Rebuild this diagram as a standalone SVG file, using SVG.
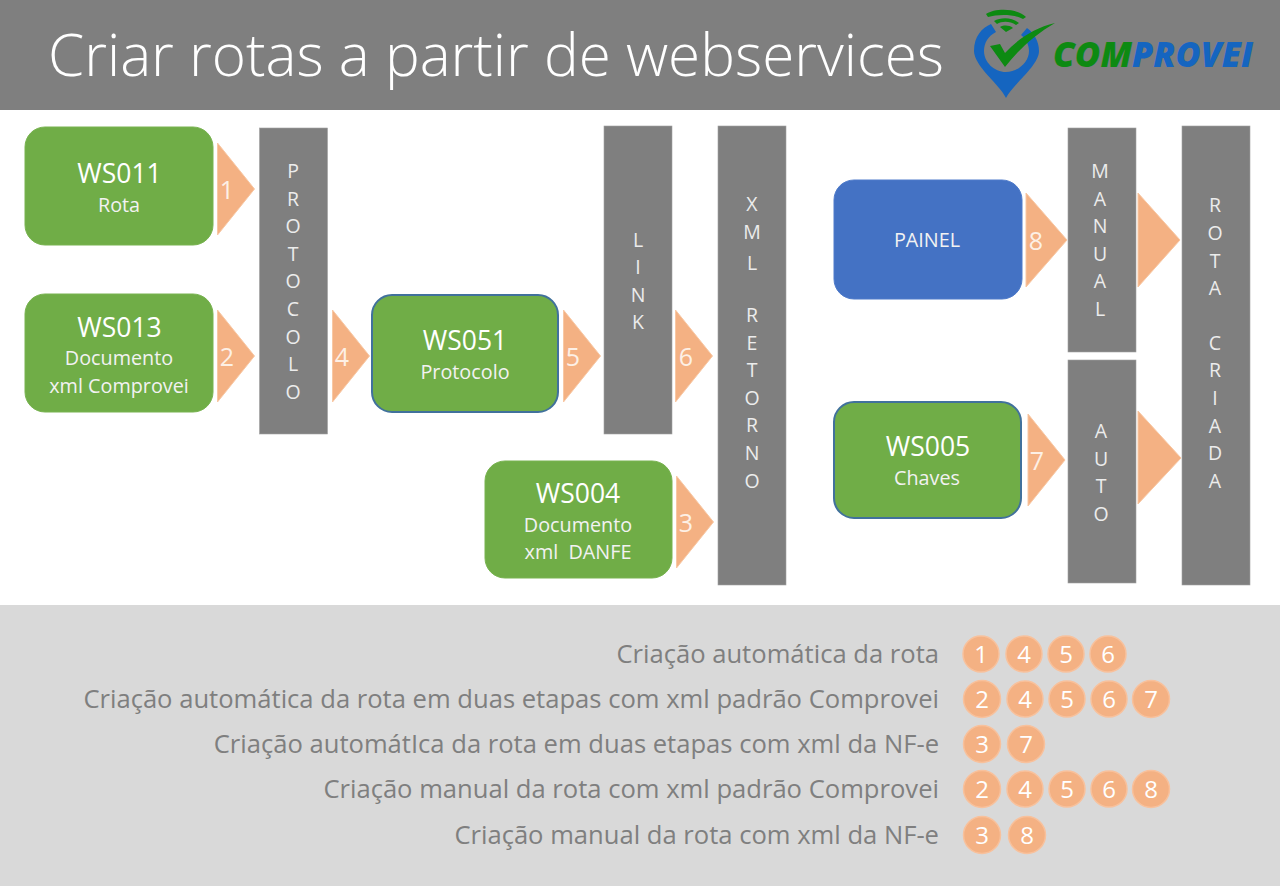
<svg xmlns="http://www.w3.org/2000/svg" width="1280" height="886" viewBox="0 0 1280 886">
<style>
text{font-family:"Open Sans","Liberation Sans",sans-serif}
.c{text-anchor:middle}
.g{fill:#70ad47;stroke:#78b350;stroke-width:1}
.gb{fill:#70ad47;stroke:#41719c;stroke-width:2}
.bar{fill:#7f7f7f;stroke:#a0a0a0;stroke-width:.6}
.t{fill:#f4b183;stroke:#f8c8a4;stroke-width:1}
.h{fill:#fff;font-size:26.500px;text-anchor:middle}
.s{fill:#f2f2f2;font-size:19.800px;text-anchor:middle}
.v{fill:#ececec;font-size:19.500px;text-anchor:middle}
.n{fill:#fdf0e6;font-size:25px;text-anchor:middle}
.r{fill:#7f7f7f;font-size:25.600px;text-anchor:end}
.d{fill:#f4b183;stroke:#f8c19c;stroke-width:1.5}
.dn{fill:#fff;font-size:24px;text-anchor:middle}
</style>
<rect width="1280" height="886" fill="#fff"/>
<g id="header">
<rect width="1280" height="110" fill="#7f7f7f"/>
<text x="48" y="76" font-size="58.400" font-weight="300" fill="#fff">Criar rotas a partir de webservices</text>
</g>
<g id="logo">
<path d="M1006 98C1000 85 974 66 974 51C974 36 982 28 991 24L996 32C988 36 984 43 984 51C984 62 994 72 1006 72C1018 72 1029 62 1029 51C1029 45 1026 39 1021 35L1027 28C1034 33 1039 41 1039 51C1039 66 1012 85 1006 98Z" fill="#1565c0"/>
<path d="M986 14C995 8 1017 8 1026 17L1023 19C1014 14 998 14 988 17Z" fill="#0d8a12"/>
<path d="M994 21C1001 17 1012 17 1019 23L1016 25C1010 21 1002 21 997 24Z" fill="#0d8a12"/>
<path d="M1000 27C1004 25 1009 25 1013 28L1006 32Z" fill="#0d8a12"/>
<path d="M990 46L1000 44L1005 53C1018 39 1034 28 1055 23C1036 34 1018 50 1005 67Z" fill="#0d8a12"/>
<text x="1053" y="67" font-size="36" font-weight="800" font-style="italic" fill="#0d8a12" textLength="79" lengthAdjust="spacingAndGlyphs">COM</text>
<text x="1132" y="67" font-size="36" font-weight="800" font-style="italic" fill="#1565c0" textLength="121" lengthAdjust="spacingAndGlyphs">PROVEI</text>
</g>
<g id="legend-band"><rect y="605" width="1280" height="281" fill="#d9d9d9"/></g>

<g id="ws011"><rect class="g" x="25" y="127" width="188" height="118" rx="20"/><text class="h" x="119.500" y="183">WS011</text><text class="s" x="119" y="212">Rota</text></g>
<g id="ws013"><rect class="g" x="25" y="294" width="188" height="118" rx="20"/><text class="h" x="119.500" y="337">WS013</text><text class="s" x="119" y="365">Documento</text><text class="s" x="119" y="393">xml Comprovei</text></g>
<g id="ws051"><rect class="gb" x="372" y="295" width="186" height="117" rx="20"/><text class="h" x="465" y="350">WS051</text><text class="s" x="465" y="379">Protocolo</text></g>
<g id="ws004"><rect class="g" x="485" y="461" width="187" height="117" rx="20"/><text class="h" x="578" y="503">WS004</text><text class="s" x="578" y="532">Documento</text><text class="s" x="578" y="559" style="white-space:pre">xml  DANFE</text></g>
<g id="painel"><rect x="834" y="180" width="188" height="119" rx="20" fill="#4472c4" stroke="#4f7bca"/><text class="s" x="927" y="247">PAINEL</text></g>
<g id="ws005"><rect class="gb" x="834" y="402" width="187" height="116" rx="20"/><text class="h" x="928" y="456">WS005</text><text class="s" x="927" y="485">Chaves</text></g>

<g id="protocolo"><rect class="bar" x="259.500" y="128" width="68" height="306"/>
<text class="v" x="293" y="178">P</text><text class="v" x="293" y="206">R</text><text class="v" x="293" y="233">O</text><text class="v" x="293" y="261">T</text><text class="v" x="293" y="288">O</text><text class="v" x="293" y="316">C</text><text class="v" x="293" y="344">O</text><text class="v" x="293" y="371">L</text><text class="v" x="293" y="399">O</text></g>
<g id="link"><rect class="bar" x="604" y="126" width="68" height="308"/>
<text class="v" x="638" y="247">L</text><text class="v" x="638" y="274">I</text><text class="v" x="638" y="302">N</text><text class="v" x="638" y="329">K</text></g>
<g id="xml-retorno"><rect class="bar" x="718" y="126" width="68" height="459"/>
<text class="v" x="752" y="211">X</text><text class="v" x="752" y="239">M</text><text class="v" x="752" y="270">L</text><text class="v" x="752" y="322">R</text><text class="v" x="752" y="350">E</text><text class="v" x="752" y="377">T</text><text class="v" x="752" y="405">O</text><text class="v" x="752" y="432">R</text><text class="v" x="752" y="460">N</text><text class="v" x="752" y="488">O</text></g>
<g id="manual"><rect class="bar" x="1068" y="128" width="68" height="224"/>
<text class="v" x="1100" y="178">M</text><text class="v" x="1100" y="206">A</text><text class="v" x="1100" y="233">N</text><text class="v" x="1100" y="261">U</text><text class="v" x="1100" y="288">A</text><text class="v" x="1100" y="316">L</text></g>
<g id="auto"><rect class="bar" x="1068" y="360" width="68" height="223"/>
<text class="v" x="1101" y="438">A</text><text class="v" x="1101" y="466">U</text><text class="v" x="1101" y="493">T</text><text class="v" x="1101" y="521">O</text></g>
<g id="rota-criada"><rect class="bar" x="1182" y="126" width="68" height="459"/>
<text class="v" x="1215" y="212">R</text><text class="v" x="1215" y="240">O</text><text class="v" x="1215" y="268">T</text><text class="v" x="1215" y="295">A</text><text class="v" x="1215" y="350">C</text><text class="v" x="1215" y="377">R</text><text class="v" x="1215" y="405">I</text><text class="v" x="1215" y="433">A</text><text class="v" x="1215" y="460">D</text><text class="v" x="1215" y="488">A</text></g>

<g id="connectors">
<polygon class="t" points="217.500,143 254.500,189 217.500,235"/><text class="n" x="227" y="199">1</text>
<polygon class="t" points="217.500,310 254.500,356 217.500,402"/><text class="n" x="227" y="366">2</text>
<polygon class="t" points="332.500,310 369.500,356 332.500,402"/><text class="n" x="342" y="366">4</text>
<polygon class="t" points="563.500,310 600.500,356 563.500,402"/><text class="n" x="573" y="366">5</text>
<polygon class="t" points="675.500,310 712.500,356 675.500,402"/><text class="n" x="686" y="366">6</text>
<polygon class="t" points="676.500,476 713.500,522 676.500,568"/><text class="n" x="686" y="532">3</text>
<polygon class="t" points="1026,193 1067,240 1026,287"/><text class="n" x="1036" y="250">8</text>
<polygon class="t" points="1028,414 1065,460 1028,506"/><text class="n" x="1037" y="470">7</text>
<polygon class="t" points="1138,193 1180,240 1138,287"/>
<polygon class="t" points="1138,411 1181,458 1138,504"/>
</g>

<g id="legend">
<text class="r" x="939" y="663">Criação automática da rota</text>
<text class="r" x="939" y="708">Criação automática da rota em duas etapas com xml padrão Comprovei</text>
<text class="r" x="939" y="753">Criação automátIca da rota em duas etapas com xml da NF-e</text>
<text class="r" x="939" y="798">Criação manual da rota com xml padrão Comprovei</text>
<text class="r" x="939" y="844">Criação manual da rota com xml da NF-e</text>
</g>
<g id="badges">
<circle class="d" cx="981" cy="654" r="18"/><text class="dn" x="981" y="663">1</text>
<circle class="d" cx="1024" cy="654" r="18"/><text class="dn" x="1024" y="663">4</text>
<circle class="d" cx="1066" cy="654" r="18"/><text class="dn" x="1066" y="663">5</text>
<circle class="d" cx="1108" cy="654" r="18"/><text class="dn" x="1108" y="663">6</text>
<circle class="d" cx="982" cy="699" r="18.500"/><text class="dn" x="982" y="708">2</text>
<circle class="d" cx="1025" cy="699" r="18"/><text class="dn" x="1025" y="708">4</text>
<circle class="d" cx="1067" cy="699" r="18"/><text class="dn" x="1067" y="708">5</text>
<circle class="d" cx="1109" cy="699" r="18"/><text class="dn" x="1109" y="708">6</text>
<circle class="d" cx="1151" cy="699" r="18.500"/><text class="dn" x="1151" y="708">7</text>
<circle class="d" cx="982" cy="744" r="18.500"/><text class="dn" x="982" y="753">3</text>
<circle class="d" cx="1026" cy="744" r="18.500"/><text class="dn" x="1026" y="753">7</text>
<circle class="d" cx="982" cy="789" r="18.500"/><text class="dn" x="982" y="798">2</text>
<circle class="d" cx="1025" cy="789" r="18"/><text class="dn" x="1025" y="798">4</text>
<circle class="d" cx="1067" cy="789" r="18"/><text class="dn" x="1067" y="798">5</text>
<circle class="d" cx="1109" cy="789" r="18"/><text class="dn" x="1109" y="798">6</text>
<circle class="d" cx="1151" cy="789" r="18.500"/><text class="dn" x="1151" y="798">8</text>
<circle class="d" cx="982" cy="835" r="18.500"/><text class="dn" x="982" y="844">3</text>
<circle class="d" cx="1027" cy="835" r="18.500"/><text class="dn" x="1027" y="844">8</text>
</g>
</svg>
